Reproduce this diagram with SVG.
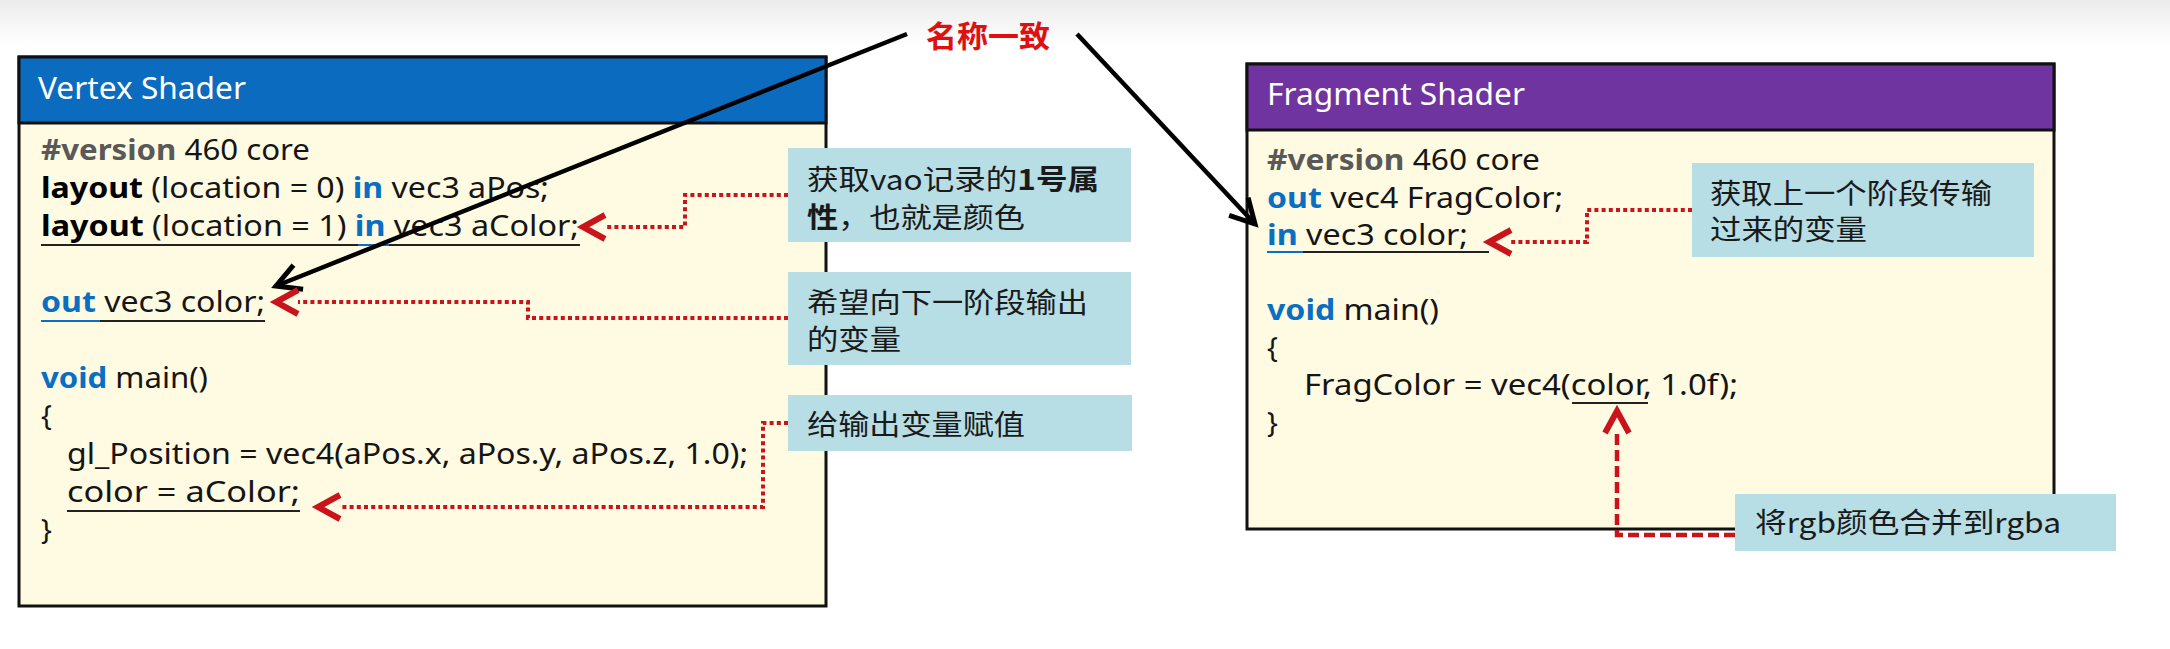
<svg xmlns="http://www.w3.org/2000/svg" width="2170" height="649" viewBox="0 0 2170 649">
<defs>
  <linearGradient id="topfade" x1="0" y1="0" x2="0" y2="1">
    <stop offset="0" stop-color="#ebebeb"/>
    <stop offset="1" stop-color="#ffffff"/>
  </linearGradient>
  <marker id="ahBlack" markerUnits="userSpaceOnUse" viewBox="-30 -18 36 36" refX="0" refY="0" markerWidth="36" markerHeight="36" orient="auto">
    <path d="M-24,-13 L0,0 L-24,13" fill="none" stroke="#000" stroke-width="5" stroke-dasharray="none"/>
  </marker>
  <marker id="ahRed" markerUnits="userSpaceOnUse" viewBox="-4 -16 34 32" refX="0" refY="0" markerWidth="34" markerHeight="32" orient="auto">
    <path d="M0,-12 L22,0 L0,12" fill="none" stroke="#c8141a" stroke-width="6" stroke-dasharray="none"/>
  </marker>
</defs>
<style>
  .code{font-family:"Noto Sans","Open Sans","Liberation Sans",sans-serif;font-size:28.5px;fill:#151515}
  .kw{font-weight:bold;fill:#0a6fc2}
  .bk{font-weight:bold;fill:#000}
  .ver{font-weight:bold;fill:#595959}
  .hdr{font-family:"Noto Sans","Open Sans","Liberation Sans",sans-serif;font-size:30px;fill:#ffffff}
  .note{font-family:"Noto Sans CJK SC","Noto Sans",sans-serif;font-size:28px;fill:#1a1a1a}
  .nb{font-weight:bold}
  .frame{stroke:#111;stroke-width:3}
  .body{fill:#fefbe2}
  .callout{fill:#b7dde5}
  .ul{stroke:#222;stroke-width:2}
  .ulb{stroke:#0a6fc2;stroke-width:2}
  .dot{fill:none;stroke:#c8141a;stroke-width:4;stroke-dasharray:4 3.2}
  .dash{fill:none;stroke:#c8141a;stroke-width:4.5;stroke-dasharray:11 5}
  .blk{fill:none;stroke:#000;stroke-width:4.5}
  .title{font-family:"Noto Sans CJK SC","Noto Sans",sans-serif;font-size:30px;font-weight:bold;fill:#e01010}
</style>

<rect x="0" y="0" width="2170" height="649" fill="#ffffff"/>
<rect x="0" y="0" width="2170" height="45" fill="url(#topfade)"/>

<g id="vertex-shader">
  <rect class="body frame" x="19" y="57" width="807" height="549"/>
  <rect x="19" y="57" width="807" height="66" fill="#0b6bbf" class="frame"/>
  <text class="hdr" x="38" y="99" textLength="208" lengthAdjust="spacingAndGlyphs">Vertex Shader</text>
  <text class="code" x="41" y="160" textLength="269" lengthAdjust="spacingAndGlyphs"><tspan class="ver">#version</tspan> 460 core</text>
  <text class="code" x="41" y="198" textLength="508" lengthAdjust="spacingAndGlyphs"><tspan class="bk">layout</tspan> (location = 0) <tspan class="kw">in</tspan> vec3 aPos;</text>
  <text class="code" x="41" y="236" textLength="538" lengthAdjust="spacingAndGlyphs"><tspan class="bk">layout</tspan> (location = 1) <tspan class="kw">in</tspan> vec3 aColor;</text>
  <line class="ul" x1="41" y1="245" x2="580" y2="245"/>
  <line class="ulb" x1="358" y1="245" x2="389" y2="245"/>
  <text class="code" x="41" y="312" textLength="224" lengthAdjust="spacingAndGlyphs"><tspan class="kw">out</tspan> vec3 color;</text>
  <line class="ul" x1="100" y1="321" x2="265" y2="321"/>
  <line class="ulb" x1="41" y1="321" x2="100" y2="321"/>
  <text class="code" x="41" y="388" textLength="167" lengthAdjust="spacingAndGlyphs"><tspan class="kw">void</tspan> main()</text>
  <text class="code" x="41" y="426">{</text>
  <text class="code" x="67" y="464" textLength="681" lengthAdjust="spacingAndGlyphs">gl_Position = vec4(aPos.x, aPos.y, aPos.z, 1.0);</text>
  <text class="code" x="67" y="502" textLength="233" lengthAdjust="spacingAndGlyphs">color = aColor;</text>
  <line class="ul" x1="67" y1="511" x2="300" y2="511"/>
  <text class="code" x="41" y="540">}</text>
</g>

<g id="fragment-shader">
  <rect class="body frame" x="1247" y="64" width="807" height="465"/>
  <rect x="1247" y="64" width="807" height="66" fill="#7034a0" class="frame"/>
  <text class="hdr" x="1267" y="105" textLength="258" lengthAdjust="spacingAndGlyphs">Fragment Shader</text>
  <text class="code" x="1267" y="170" textLength="273" lengthAdjust="spacingAndGlyphs"><tspan class="ver">#version</tspan> 460 core</text>
  <text class="code" x="1267" y="207.5" textLength="296" lengthAdjust="spacingAndGlyphs"><tspan class="kw">out</tspan> vec4 FragColor;</text>
  <text class="code" x="1267" y="245" textLength="201" lengthAdjust="spacingAndGlyphs"><tspan class="kw">in</tspan> vec3 color;</text>
  <line class="ul" x1="1303" y1="252" x2="1489" y2="252"/>
  <line class="ulb" x1="1267" y1="252" x2="1303" y2="252"/>
  <text class="code" x="1267" y="320" textLength="172" lengthAdjust="spacingAndGlyphs"><tspan class="kw">void</tspan> main()</text>
  <text class="code" x="1267" y="357.5">{</text>
  <text class="code" x="1304" y="395" textLength="434" lengthAdjust="spacingAndGlyphs">FragColor = vec4(color, 1.0f);</text>
  <line class="ul" x1="1572" y1="403" x2="1648" y2="403"/>
  <text class="code" x="1267" y="432.5">}</text>
</g>

<g id="connectors">
  <path class="blk" d="M907,34 L276,286" marker-end="url(#ahBlack)"/>
  <path class="blk" d="M1077,34 L1255,224" marker-end="url(#ahBlack)"/>
  <path class="dot" d="M788,195 H685 V227 H605" marker-end="url(#ahRed)"/>
  <path class="dot" d="M788,318 H528 V302 H298" marker-end="url(#ahRed)"/>
  <path class="dot" d="M788,423 H763 V507 H340" marker-end="url(#ahRed)"/>
  <path class="dot" d="M1692,210 H1587 V242 H1511" marker-end="url(#ahRed)"/>
  <path class="dash" d="M1735,535 H1617 V433" marker-end="url(#ahRed)"/>
</g>

<g id="title-name-match">
  <text class="title" x="926" y="47" textLength="124" lengthAdjust="spacingAndGlyphs">名称一致</text>
</g>

<g id="note-attr1">
  <rect class="callout" x="788" y="148" width="343" height="94"/>
  <text class="note" x="807" y="190" textLength="292" lengthAdjust="spacingAndGlyphs">获取vao记录的<tspan class="nb">1号属</tspan></text>
  <text class="note" x="807" y="228" textLength="218" lengthAdjust="spacingAndGlyphs"><tspan class="nb">性</tspan>，也就是颜色</text>
</g>

<g id="note-out">
  <rect class="callout" x="788" y="272" width="343" height="93"/>
  <text class="note" x="807" y="313" textLength="281" lengthAdjust="spacingAndGlyphs">希望向下一阶段输出</text>
  <text class="note" x="807" y="350" textLength="94" lengthAdjust="spacingAndGlyphs">的变量</text>
</g>

<g id="note-assign">
  <rect class="callout" x="788" y="395" width="344" height="56"/>
  <text class="note" x="807" y="435" textLength="218" lengthAdjust="spacingAndGlyphs">给输出变量赋值</text>
</g>

<g id="note-in">
  <rect class="callout" x="1692" y="163" width="342" height="94"/>
  <text class="note" x="1710" y="204" textLength="282" lengthAdjust="spacingAndGlyphs">获取上一个阶段传输</text>
  <text class="note" x="1710" y="240" textLength="157" lengthAdjust="spacingAndGlyphs">过来的变量</text>
</g>

<g id="note-rgba">
  <rect class="callout" x="1735" y="494" width="381" height="57"/>
  <text class="note" x="1755" y="533" textLength="306" lengthAdjust="spacingAndGlyphs">将rgb颜色合并到rgba</text>
</g>
</svg>
